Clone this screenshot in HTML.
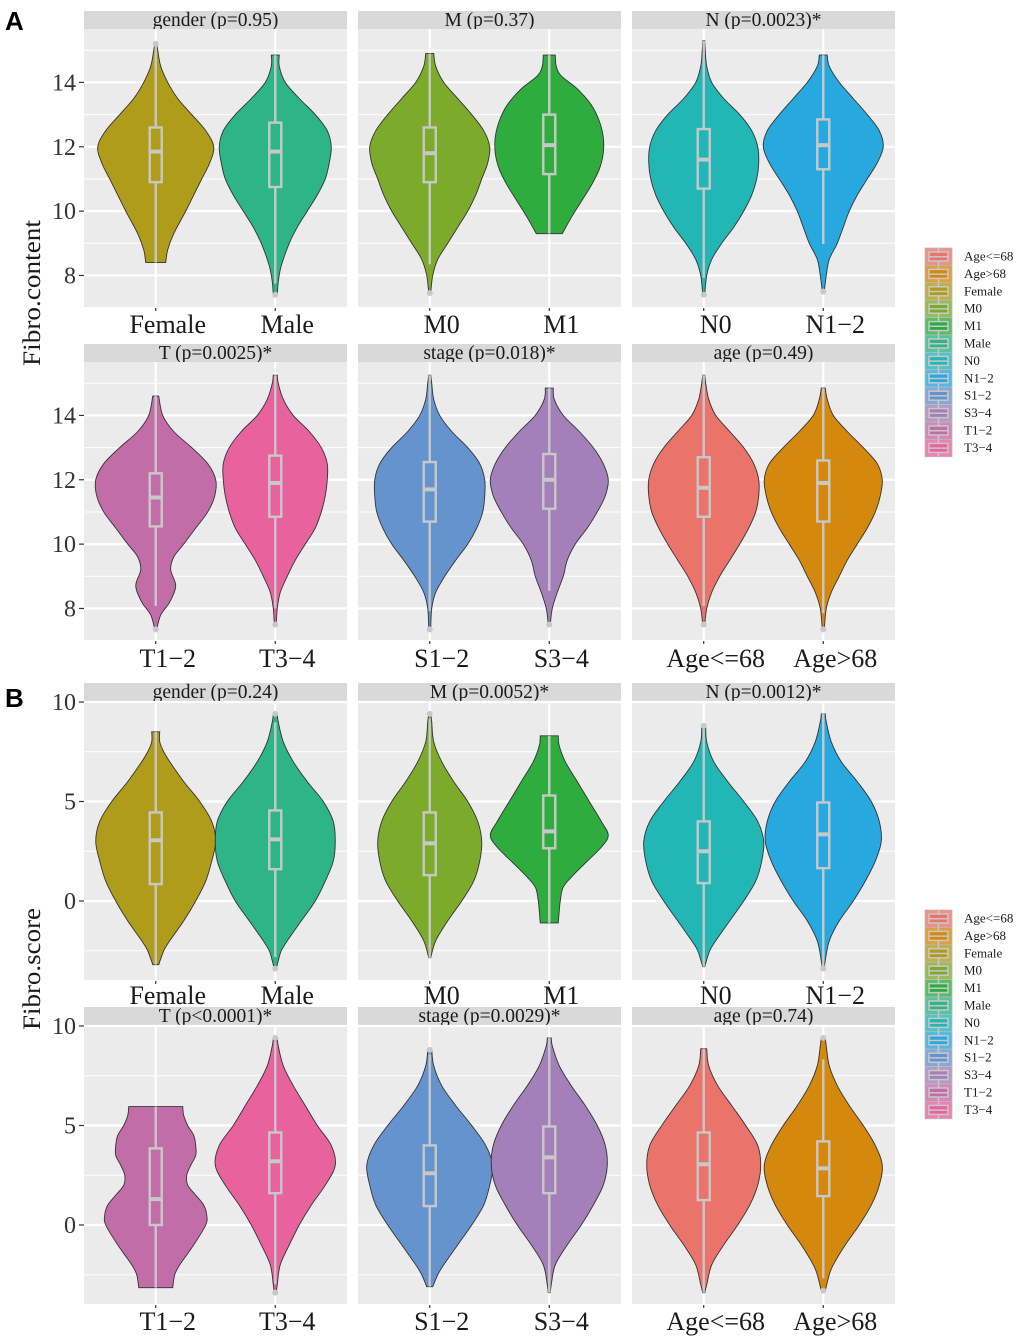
<!DOCTYPE html>
<html><head><meta charset="utf-8"><style>
html,body{margin:0;padding:0;background:#fff;}
svg{display:block;font-family:"Liberation Serif",serif;}
</style></head><body>
<svg id="chart" width="1020" height="1341" viewBox="0 0 1020 1341" xmlns="http://www.w3.org/2000/svg"></svg>
<script>
// ---- data ----
const facetTitlesA = ['gender (p=0.95)','M (p=0.37)','N (p=0.0023)*','T (p=0.0025)*','stage (p=0.018)*','age (p=0.49)'];
const facetTitlesB = ['gender (p=0.24)','M (p=0.0052)*','N (p=0.0012)*','T (p<0.0001)*','stage (p=0.0029)*','age (p=0.74)'];
const facetCats = [['Female','Male'],['M0','M1'],['N0','N1\u22122'],['T1\u22122','T3\u22124'],['S1\u22122','S3\u22124'],['Age<=68','Age>68']];
const ticksA = [8,10,12,14];
const minorA = [7,9,11,13,15];
const ticksB = [0,5,10];
const minorB = [-2.5,2.5,7.5];
const legendLabels = ['Age<=68','Age>68','Female','M0','M1','Male','N0','N1\u22122','S1\u22122','S3\u22124','T1\u22122','T3\u22124'];
const catColors = {'Female':'#B09C1B','Male':'#2DB487','M0':'#7CAB2C','M1':'#2EAD3E','N0':'#22B6B5','N1\u22122':'#27A8DF','S1\u22122':'#6593CE','S3\u22124':'#A380BA','T1\u22122':'#C36DA8','T3\u22124':'#E8629D','Age<=68':'#EB746A','Age>68':'#D5880E'};

// Violin profiles: ys = value levels, ws = density half-width, box = [q1, median, q3]
const A_Female = {ys:[8.4,8.8,9.3,10,10.5,11,11.5,12,12.5,13,13.5,14,14.5,15,15.2], ws:[10,12,18,30,38,46,54,58,50,36,22,12,5,2,1], box:[10.9,11.85,12.6]};
const A_Male = {ys:[7.4,7.8,8.3,9,9.5,10,10.5,11,11.5,12,12.5,13,13.5,14,14.5,14.85], ws:[2,3,6,14,22,32,42,50,54,56,52,40,24,10,4,4], box:[10.75,11.85,12.75]};
const A_M0 = {ys:[7.45,8,8.5,9,9.5,10,10.5,11,11.5,12,12.5,13,13.5,14,14.5,14.9], ws:[1,3,8,18,28,38,46,52,58,60,54,42,28,14,6,4], box:[10.9,11.8,12.6]};
const A_M1 = {ys:[9.3,9.8,10.3,10.8,11.3,11.8,12.3,12.8,13.3,13.8,14.2,14.5,14.85], ws:[13,22,32,42,50,54,54,50,42,28,12,7,6], box:[11.15,12.05,13.0]};
const A_N0 = {ys:[7.4,8,8.5,9,9.5,10,10.5,11,11.5,12,12.5,13,13.5,14,14.5,15,15.3], ws:[1,3,8,18,30,40,48,53,55,54,48,36,20,8,3,1.5,1], box:[10.7,11.6,12.55]};
const A_N12 = {ys:[7.5,8,8.5,9,9.5,10,10.5,11,11.5,12,12.5,13,13.5,14,14.5,14.85], ws:[1,3,6,14,20,26,34,44,54,60,56,44,30,16,6,4], box:[11.3,12.05,12.85]};
const A_T12 = {ys:[7.35,7.8,8.2,8.7,9.2,9.6,10,10.5,11,11.5,12,12.5,13,13.5,14,14.6], ws:[1,5,14,20,15,18,28,40,52,59,60,52,36,18,7,3], box:[10.55,11.45,12.2]};
const A_T34 = {ys:[7.5,8,8.5,9,9.5,10,10.5,11,11.5,12,12.5,13,13.5,14,14.5,15,15.25], ws:[1,2,5,12,20,30,40,46,50,52,52,46,34,18,8,3,2], box:[10.85,11.9,12.75]};
const A_S12 = {ys:[7.35,8,8.5,9,9.5,10,10.5,11,11.5,12,12.5,13,13.5,14,14.5,15,15.25], ws:[1,2,6,15,26,38,47,53,55,55,50,38,22,10,4,2,1], box:[10.7,11.7,12.55]};
const A_S34 = {ys:[7.5,8,8.5,9,9.5,10,10.5,11,11.5,12,12.5,13,13.5,14,14.5,14.85], ws:[1,3,8,14,18,26,38,48,56,59,54,44,30,14,5,4], box:[11.1,12.0,12.8]};
const A_Age1 = {ys:[7.5,8,8.5,9,9.5,10,10.5,11,11.5,12,12.5,13,13.5,14,14.5,15,15.25], ws:[1,3,8,16,26,36,45,52,55,55,50,40,26,12,5,2,1], box:[10.85,11.75,12.7]};
const A_Age2 = {ys:[7.35,8,8.5,9,9.5,10,10.5,11,11.5,12,12.5,13,13.5,14,14.5,14.85], ws:[1,3,8,16,24,34,44,52,57,59,54,40,24,10,4,2], box:[10.7,11.9,12.6]};

const B_Female = {ys:[-3.2,-2.5,-2,-1,0,1,2,3,4,5,6,7,7.5,8,8.5], ws:[3,8,14,28,40,50,56,60,56,44,28,14,8,4,4], box:[0.85,3.05,4.45]};
const B_Male = {ys:[-3.4,-3,-2.5,-2,-1,0,1,2,3,4,5,6,7,8,9,9.4], ws:[1,3,6,12,26,40,50,58,60,58,48,32,18,8,3,2], box:[1.6,3.1,4.55]};
const B_M0 = {ys:[-2.85,-2,-1,0,1,2,3,4,5,6,7,8,9,9.4], ws:[1,6,18,32,44,50,52,48,38,24,12,4,2,1], box:[1.3,2.9,4.45]};
const B_M1 = {ys:[-1.1,-0.5,0,0.7,1.3,2,2.7,3.3,4,5,6,7,7.8,8.3], ws:[9,10,11,14,24,38,52,59,52,40,28,16,10,9], box:[2.65,3.5,5.3]};
const B_N0 = {ys:[-3.3,-2.5,-2,-1,0,1,2,3,4,5,6,7,8,8.8], ws:[1,6,12,26,40,52,58,60,54,40,24,10,3,2], box:[0.9,2.5,4.0]};
const B_N12 = {ys:[-3.4,-3,-2,-1,0,1,2,3,4,5,6,7,8,9,9.4], ws:[1,2,6,16,30,42,52,58,56,48,34,18,8,3,2], box:[1.65,3.35,4.95]};
const B_T12 = {ys:[-3.15,-2.5,-2,-1,0,0.5,1,1.5,2,2.5,3,3.5,4,4.5,5,5.5,5.95], ws:[17,19,24,38,50,51,48,40,32,31,35,40,40,38,32,28,27], box:[0,1.3,3.85]};
const B_T34 = {ys:[-3.4,-3,-2,-1,0,1,2,3,4,5,6,7,8,9,9.4], ws:[1,2,5,14,24,36,50,60,56,42,30,18,8,3,2], box:[1.6,3.2,4.65]};
const B_S12 = {ys:[-3.1,-2.5,-2,-1,0,1,2,3,4,5,6,7,8,8.8], ws:[3,8,14,28,42,54,60,63,56,42,26,12,4,2], box:[0.95,2.6,4.0]};
const B_S34 = {ys:[-3.4,-3,-2,-1,0,1,2,3,4,5,6,7,8,9,9.4], ws:[1,2,6,18,32,44,54,58,56,48,36,22,10,3,2], box:[1.6,3.4,4.95]};
const B_Age1 = {ys:[-3.4,-3,-2,-1,0,1,2,3,4,5,6,7,8,8.85], ws:[1,3,8,20,34,46,54,57,54,42,28,14,5,3], box:[1.25,3.05,4.65]};
const B_Age2 = {ys:[-3.3,-2.5,-2,-1,0,1,2,3,4,5,6,7,8,9,9.4], ws:[2,6,10,22,36,48,56,59,52,40,26,14,6,3,2], box:[1.45,2.85,4.2]};

const violinsA = [[A_Female,A_Male],[A_M0,A_M1],[A_N0,A_N12],[A_T12,A_T34],[A_S12,A_S34],[A_Age1,A_Age2]];
const violinsB = [[B_Female,B_Male],[B_M0,B_M1],[B_N0,B_N12],[B_T12,B_T34],[B_S12,B_S34],[B_Age1,B_Age2]];

// ---- layout ----
const NS = 'http://www.w3.org/2000/svg';
const svg = document.getElementById('chart');
const colX = [84,358,632], panelW = 263;
const blocks = {
  A:{rows:[{strip:11,top:29,bottom:307,xlab:333},{strip:344,top:362,bottom:640,xlab:667}], dom:[7.02,15.66], ticks:ticksA, minor:minorA, titles:facetTitlesA, violins:violinsA, ytitle:'Fibro.content', ytitleY:293, letterY:30, legendY:248},
  B:{rows:[{strip:683,top:701,bottom:980,xlab:1004},{strip:1007,top:1025,bottom:1304,xlab:1330}], dom:[-3.97,10.05], ticks:ticksB, minor:minorB, titles:facetTitlesB, violins:violinsB, ytitle:'Fibro.score', ytitleY:969, letterY:707, legendY:910}
};
function mk(tag, attrs, parent){ const e=document.createElementNS(NS,tag); for(const k in attrs) e.setAttribute(k,attrs[k]); (parent||svg).appendChild(e); return e; }
function yScale(b,r){ const g=blocks[b].rows[r], d=blocks[b].dom; return v => g.bottom-(v-d[0])/(d[1]-d[0])*(g.bottom-g.top); }
function xScale(c){ return i => colX[c]+panelW*(0.6+i)/2.2; }
const wScale = panelW/263;

function smoothPath(pts){
  let d='M'+pts[0][0].toFixed(2)+','+pts[0][1].toFixed(2);
  for(let i=0;i<pts.length-1;i++){
    const p0=pts[Math.max(0,i-1)],p1=pts[i],p2=pts[i+1],p3=pts[Math.min(pts.length-1,i+2)];
    const c1=[p1[0]+(p2[0]-p0[0])/6,p1[1]+(p2[1]-p0[1])/6];
    const c2=[p2[0]-(p3[0]-p1[0])/6,p2[1]-(p3[1]-p1[1])/6];
    d+='C'+c1[0].toFixed(2)+','+c1[1].toFixed(2)+' '+c2[0].toFixed(2)+','+c2[1].toFixed(2)+' '+p2[0].toFixed(2)+','+p2[1].toFixed(2);
  }
  return d;
}

for(const b of ['A','B']){
  const B=blocks[b];
  const L=mk('text',{x:5,y:B.letterY,'font-family':'Liberation Sans, sans-serif','font-weight':'bold','font-size':26,fill:'#000'});
  
  
  L.textContent=b;
  const yt=mk('text',{x:0,y:0,transform:`translate(40,${B.ytitleY}) rotate(-90)`,'text-anchor':'middle','font-size':25,fill:'#1a1a1a',textLength:(b==='A'?146:122),lengthAdjust:'spacingAndGlyphs'});
  
  
  yt.textContent=B.ytitle;
  for(let r=0;r<2;r++){
    const g=B.rows[r], ys=yScale(b,r);
    for(const t of B.ticks){
      const tl=mk('text',{x:76,y:ys(t)+8,'text-anchor':'end','font-size':24,fill:'#333'});
      
      
      tl.textContent=t;
      mk('line',{x1:79,x2:84,y1:ys(t),y2:ys(t),stroke:'#333','stroke-width':1.2});
    }
    for(let c=0;c<3;c++){
      const fi=r*3+c, x0=colX[c], xs=xScale(c);
      const pg=mk('g',{});
      
      
      const st=mk('rect',{x:x0,y:g.strip,width:panelW,height:g.top-g.strip,fill:'#D9D9D9'},pg);
      
      
      const stt=mk('text',{x:x0+panelW/2,y:g.strip+15,'text-anchor':'middle','font-size':19.5,fill:'#1a1a1a'},pg);
      
      
      stt.textContent=B.titles[fi];
      mk('rect',{x:x0,y:g.top,width:panelW,height:g.bottom-g.top,fill:'#EBEBEB'},pg);
      for(const m of B.minor){ const y=ys(m); if(y>g.top&&y<g.bottom) mk('line',{x1:x0,x2:x0+panelW,y1:y,y2:y,stroke:'#fff','stroke-width':1},pg); }
      for(const t of B.ticks) mk('line',{x1:x0,x2:x0+panelW,y1:ys(t),y2:ys(t),stroke:'#fff','stroke-width':2.2},pg);
      for(let i=0;i<2;i++){
        const cx=xs(i);
        mk('line',{x1:cx,x2:cx,y1:g.top,y2:g.bottom,stroke:'#fff','stroke-width':2.2},pg);
        mk('line',{x1:cx,x2:cx,y1:g.bottom+1,y2:g.bottom+4,stroke:'#333','stroke-width':1.2},pg);
        const cat=facetCats[fi][i];
        const xl=mk('text',{x:cx+12,y:g.xlab,'text-anchor':'middle','font-size':26,fill:'#1a1a1a'},pg);
        
        
        xl.textContent=cat;
      }
      for(let i=0;i<2;i++){
        const v=B.violins[fi][i], cx=xs(i), cat=facetCats[fi][i];
        const right=v.ys.map((y,k)=>[cx+v.ws[k]*wScale, ys(y)]);
        const left=v.ys.map((y,k)=>[cx-v.ws[k]*wScale, ys(y)]).reverse();
        let d=smoothPath(right)+'L'+left[0][0].toFixed(2)+','+left[0][1].toFixed(2)+smoothPath(left).replace(/^M[^C]*/,'')+'Z';
        const vp=mk('path',{d:d,fill:catColors[cat],stroke:'#333','stroke-width':0.9},pg);
        
        
        const [q1,med,q3]=v.box, iqr=q3-q1, vmin=v.ys[0], vmax=v.ys[v.ys.length-1];
        const lo=Math.max(vmin,q1-1.5*iqr), hi=Math.min(vmax,q3+1.5*iqr);
        const bg=mk('g',{},pg);
        
        
        mk('line',{x1:cx,x2:cx,y1:ys(lo),y2:ys(q1),stroke:'#C8C8C8','stroke-width':2.4},bg);
        mk('line',{x1:cx,x2:cx,y1:ys(q3),y2:ys(hi),stroke:'#C8C8C8','stroke-width':2.4},bg);
        mk('rect',{x:cx-6,y:ys(q3),width:12,height:ys(q1)-ys(q3),fill:'none',stroke:'#C8C8C8','stroke-width':2.4},bg);
        mk('line',{x1:cx-6,x2:cx+6,y1:ys(med),y2:ys(med),stroke:'#C8C8C8','stroke-width':4},bg);
        if(vmin<lo) mk('circle',{cx:cx,cy:ys(vmin),r:3,fill:'#C8C8C8'},bg);
        if(vmax>hi) mk('circle',{cx:cx,cy:ys(vmax),r:3,fill:'#C8C8C8'},bg);
      }
    }
  }
  const lg=mk('g',{});
  
  
  legendLabels.forEach((lab,k)=>{
    const y=B.legendY+k*17.4;
    const eg=mk('g',{},lg);
    
    
    mk('rect',{x:925,y:y,width:27,height:17.4,fill:catColors[lab],'fill-opacity':0.8,stroke:'#bbb','stroke-width':0.8},eg);
    mk('line',{x1:938.5,x2:938.5,y1:y,y2:y+17.4,stroke:'#C8C8C8','stroke-width':1.5},eg);
    mk('rect',{x:929,y:y+4,width:19,height:9,fill:catColors[lab],stroke:'#C8C8C8','stroke-width':1.5},eg);
    mk('line',{x1:929,x2:948,y1:y+8.7,y2:y+8.7,stroke:'#C8C8C8','stroke-width':1.5},eg);
    const t=mk('text',{x:964,y:y+12.5,'font-size':13,fill:'#1a1a1a'},eg);
    t.textContent=lab;
  });
}
</script>
</body></html>
